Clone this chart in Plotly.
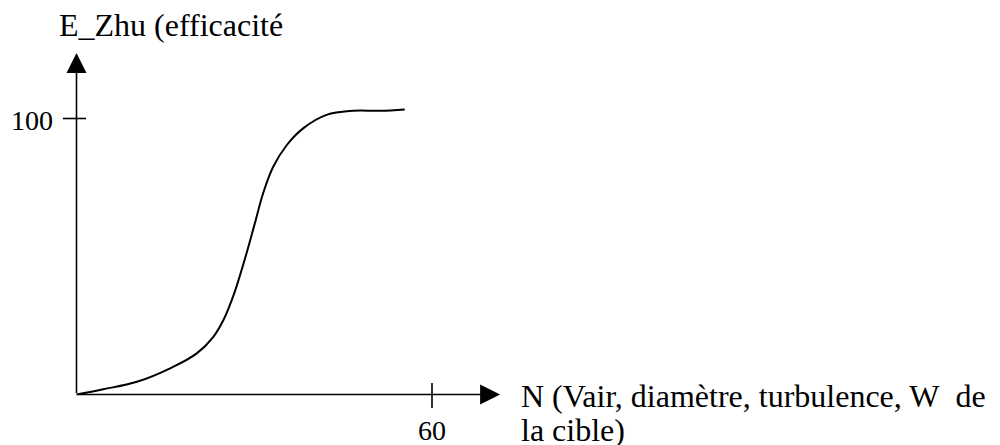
import plotly.graph_objects as go

# curve (N on x, efficiency on y)
n_vals = [0, 4.5, 10.2, 15.8, 20.3, 23.1, 24.8, 26.2, 27.0, 28.7, 30.1,
          31.5, 33.2, 35.5, 38.3, 42.2, 46.7, 51.2, 55.4]
e_vals = [0, 1.9, 4.6, 9.5, 14.9, 20.9, 27.0, 34.2, 39.1, 51.2, 62.0,
          72.9, 82.5, 90.4, 96.5, 101.3, 102.8, 102.8, 103.3]

x_tick = 60
y_tick = 100
x_label = ["N (Vair, diamètre, turbulence, W\u00a0 de", "la cible)"]
y_label = "E_Zhu (efficacité"

W, H = 1000, 445
SERIF = "Liberation Serif, Times New Roman, serif"


def px(x):
    return x / W


def py(y):
    return 1 - y / H


fig = go.Figure()
fig.add_trace(go.Scatter(x=n_vals, y=e_vals, mode="lines",
                         line=dict(color="black", width=2, shape="spline", smoothing=1.1),
                         hoverinfo="skip", showlegend=False))

# axes with arrow heads
arrow = dict(showarrow=True, arrowhead=2, arrowsize=2.5, arrowwidth=1.6,
             arrowcolor="black", axref="x", ayref="y", xref="x", yref="y", text="")
fig.add_annotation(x=71.5, y=0, ax=0, ay=0, **arrow)
fig.add_annotation(x=0, y=123.7, ax=0, ay=0, **arrow)

# tick crosses
fig.add_shape(type="line", x0=-2.3, x1=1.6, y0=y_tick, y1=y_tick,
              line=dict(color="black", width=1.6))
fig.add_shape(type="line", x0=x_tick, x1=x_tick, y0=4.2, y1=-4.9,
              line=dict(color="black", width=1.6))

txt = dict(showarrow=False, xref="paper", yref="paper")
fig.add_annotation(text=y_label, x=px(57), y=py(5), xanchor="left", yanchor="top",
                   font=dict(family=SERIF, size=32, color="black"), **txt)
fig.add_annotation(text=str(y_tick), x=px(55), y=py(103), xanchor="right", yanchor="top",
                   font=dict(family=SERIF, size=28, color="black"), **txt)
fig.add_annotation(text=str(x_tick), x=px(432), y=py(413), xanchor="center", yanchor="top",
                   font=dict(family=SERIF, size=28, color="black"), **txt)
fig.add_annotation(text=x_label[0], x=px(519), y=py(376), xanchor="left", yanchor="top",
                   font=dict(family=SERIF, size=32, color="black"), **txt)
fig.add_annotation(text=x_label[1], x=px(519), y=py(410), xanchor="left", yanchor="top",
                   font=dict(family=SERIF, size=32, color="black"), **txt)

fig.update_layout(width=W, height=H, margin=dict(l=0, r=0, t=0, b=0),
                  plot_bgcolor="white", paper_bgcolor="white",
                  xaxis=dict(range=[-76.5 / 5.925, (W - 76.5) / 5.925], visible=False),
                  yaxis=dict(range=[(394.5 - H) / 2.76, 394.5 / 2.76], visible=False))

fig.write_html("out.html", config={"displayModeBar": False},
               post_script="document.body.style.margin='0';document.body.style.overflow='hidden';")
